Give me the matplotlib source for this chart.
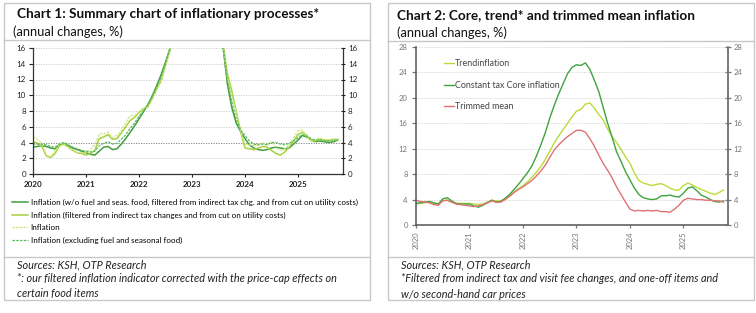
import matplotlib
matplotlib.use("Agg")
import matplotlib.pyplot as plt
from matplotlib.lines import Line2D
from matplotlib.patches import Rectangle
import numpy as np

plt.rcParams["font.family"] = ["Lato", "DejaVu Sans"]

W, H = 756, 313

# ---- data: monthly, Jan 2020 .. Oct 2025 ----
years = ["2020", "2021", "2022", "2023", "2024", "2025"]

# Chart 1
infl_core_filtered = [
    3.4, 3.5, 3.6, 3.5, 3.3, 3.2, 3.7, 3.9, 3.6, 3.3, 3.1, 2.9,
    2.7, 2.5, 2.4, 2.9, 3.4, 3.5, 3.1, 3.2, 3.8, 4.5, 5.3, 6.1,
    7.0, 7.9, 8.8, 9.9, 11.2, 12.6, 14.2, 15.9, 18.0, 20.0, 22.0, 24.0,
    25.5, 26.0, 26.0, 25.5, 24.0, 22.5, 20.0, 16.3, 11.5, 8.5, 6.5, 5.4,
    4.5, 3.7, 3.3, 3.1, 3.0, 3.1, 3.3, 3.4, 3.3, 3.2, 3.3, 3.8,
    4.3, 4.9, 4.7, 4.3, 4.1, 4.2, 4.1, 4.0, 4.1, 4.3]
infl_filtered = [
    4.1, 3.9, 3.5, 2.3, 2.1, 2.6, 3.6, 3.8, 3.4, 3.0, 2.7, 2.6,
    2.4, 2.6, 3.0, 4.5, 4.7, 5.0, 4.4, 4.5, 5.2, 6.0, 6.8, 7.2,
    7.8, 8.3, 8.6, 9.6, 10.8, 11.8, 13.8, 15.8, 19.5, 20.5, 22.0, 24.0,
    25.0, 25.0, 25.0, 24.0, 21.5, 20.0, 17.5, 16.6, 12.8, 10.6, 8.0, 5.4,
    3.3, 3.2, 3.1, 3.3, 3.5, 3.4, 3.0, 2.6, 2.4, 2.8, 3.4, 4.2,
    5.0, 5.3, 4.9, 4.2, 4.2, 4.4, 4.3, 4.3, 4.4, 4.4]
infl_headline = [
    4.7, 4.4, 3.9, 2.4, 2.2, 2.9, 3.8, 3.9, 3.4, 3.0, 2.7, 2.7,
    2.7, 3.1, 3.7, 5.1, 5.1, 5.3, 4.6, 4.9, 5.5, 6.5, 7.4, 7.4,
    7.9, 8.3, 8.5, 9.5, 10.7, 11.7, 13.7, 15.6, 20.1, 21.1, 22.5, 24.5,
    25.7, 25.4, 25.2, 24.0, 21.5, 20.1, 17.6, 16.4, 12.2, 9.9, 7.9, 5.5,
    3.8, 3.7, 3.6, 3.7, 4.0, 3.7, 4.1, 3.4, 3.0, 3.2, 3.7, 4.6,
    5.5, 5.6, 4.7, 4.2, 4.4, 4.6, 4.3, 4.3, 4.3, 4.3]
infl_ex_fuel_food = [
    3.8, 3.8, 3.8, 3.7, 3.5, 3.4, 3.8, 4.0, 3.7, 3.4, 3.2, 3.0,
    2.9, 2.8, 2.9, 3.6, 3.9, 4.1, 3.8, 3.9, 4.4, 5.0, 5.8, 6.5,
    7.3, 8.0, 8.7, 9.8, 11.0, 12.3, 14.0, 15.8, 18.5, 20.5, 22.0, 24.0,
    25.5, 25.5, 25.5, 25.0, 23.0, 21.5, 19.0, 16.5, 12.0, 9.2, 7.0, 5.6,
    4.9, 4.2, 3.8, 3.7, 3.8, 3.7, 4.0, 4.0, 3.8, 3.7, 3.9, 4.2,
    4.6, 5.0, 4.8, 4.5, 4.3, 4.3, 4.2, 4.2, 4.2, 4.3]

labels1 = [
    "Inflation (w/o fuel and seas. food, filtered from indirect tax chg. and from cut on utility costs)",
    "Inflation (filtered from indirect tax changes and from cut on utility costs)",
    "Inflation",
    "Inflation (excluding fuel and seasonal food)",
]

# Chart 2
trend = [
    3.3, 3.4, 3.5, 3.6, 3.4, 3.3, 3.8, 3.9, 3.6, 3.4, 3.4, 3.4,
    3.4, 3.3, 3.2, 3.3, 3.6, 3.9, 3.8, 3.8, 4.1, 4.6, 5.2, 5.7,
    6.2, 6.8, 7.5, 8.3, 9.2, 10.3, 11.6, 12.9, 14.0, 15.0, 16.0, 17.0,
    17.9, 18.2, 19.0, 19.2, 18.4, 17.4, 16.5, 15.1, 13.9, 13.0, 11.9, 10.7,
    9.7, 8.2, 7.0, 6.6, 6.4, 6.2, 6.4, 6.5, 6.2, 5.8, 5.5, 5.5,
    6.2, 6.6, 6.3, 5.9, 5.6, 5.3, 5.0, 4.8, 5.1, 5.5]
core_const_tax = [
    3.4, 3.5, 3.6, 3.7, 3.5, 3.3, 4.1, 4.3, 3.8, 3.4, 3.3, 3.3,
    3.3, 3.0, 2.8, 3.1, 3.5, 3.9, 3.6, 3.7, 4.2, 4.8, 5.6, 6.4,
    7.3, 8.2, 9.3, 10.8, 12.6, 14.5, 16.8, 18.8, 20.6, 22.2, 23.8, 24.8,
    25.2, 25.1, 25.5, 24.5, 22.8, 21.0, 18.5, 16.0, 13.8, 11.5, 10.0, 8.4,
    7.1, 5.8, 4.8, 4.3, 4.1, 4.0, 4.1, 4.6, 4.6, 4.7, 4.5, 4.4,
    5.0, 5.8, 6.0, 5.4, 4.7, 4.4, 4.0, 3.7, 3.6, 3.8]
trimmed_mean = [
    3.9, 3.7, 3.6, 3.5, 3.2, 3.1, 3.8, 3.9, 3.6, 3.3, 3.2, 3.1,
    3.0, 2.9, 3.0, 3.2, 3.5, 3.8, 3.6, 3.6, 4.0, 4.5, 5.1, 5.6,
    6.0, 6.5, 7.0, 7.7, 8.5, 9.4, 10.6, 11.8, 12.6, 13.3, 13.9, 14.4,
    14.9, 14.9, 14.6, 13.6, 12.4, 11.0, 9.7, 8.6, 7.4, 6.0, 4.8, 3.6,
    2.5, 2.2, 2.3, 2.2, 2.3, 2.2, 2.3, 2.1, 2.1, 2.0, 2.5, 3.1,
    3.9, 4.2, 4.1, 4.0, 4.0, 3.9, 3.9, 3.8, 3.8, 3.6]
labels2 = ["Trendinflation", "Constant tax Core inflation", "Trimmed mean"]

months = np.arange(len(infl_headline))
year_pos = np.arange(len(years)) * 12

DARK = "#3f9e3f"
LIME = "#a8d040"
LIGHT = "#cfe67c"
MID = "#5cb85c"
RED = "#e07272"
AXC = "#555555"


def fx(x):
    return x / W


def fy(y):
    return 1 - y / H


def box(x0, y0, x1, y1, seps):
    fig.add_artist(Rectangle((fx(x0), fy(y1)), fx(x1) - fx(x0), fy(y0) - fy(y1),
                             transform=fig.transFigure, fill=False,
                             edgecolor="#c8c8c8", linewidth=1.0))
    for s in seps:
        fig.add_artist(Line2D([fx(x0), fx(x1)], [fy(s), fy(s)],
                              transform=fig.transFigure, color="#c8c8c8", linewidth=1.0))


fig = plt.figure(figsize=(W / 100, H / 100), dpi=100)

# ---------------- Chart 1 ----------------
box(4, 3, 370, 300, [40, 257])
fig.text(fx(17), fy(14), "Chart 1: Summary chart of inflationary processes*",
         fontsize=9.8, fontweight="bold", va="center", color="#111111")
fig.text(fx(13), fy(32), "(annual changes, %)", fontsize=9.3, va="center", color="#111111")

ax1 = fig.add_axes([fx(33), fy(174), (343 - 33) / W, (174 - 48) / H])
ax1.plot(months, infl_core_filtered, color=DARK, lw=1.1, label=labels1[0])
ax1.plot(months, infl_filtered, color=LIME, lw=1.1, label=labels1[1])
ax1.plot(months, infl_headline, color=LIGHT, lw=0.9, ls=(0, (2, 1)), label=labels1[2])
ax1.plot(months, infl_ex_fuel_food, color=MID, lw=0.9, ls=(0, (2, 1)), label=labels1[3])
ax1.set_xlim(0, 70.2)
ax1.set_ylim(0, 16)
ax1.set_yticks(range(0, 17, 2))
ax1.set_xticks(year_pos)
ax1.set_xticklabels(years, fontsize=5.8, fontweight="bold", color="#222222")
for yv in range(2, 17, 2):
    ax1.axhline(yv, color="#777777" if yv == 4 else "#c8c8c8", lw=0.6, ls=(0, (1.5, 1.5)), zorder=0)
ax1.tick_params(axis="y", labelsize=5.8, colors="#222222", length=3, width=0.8, pad=2, direction="out")
ax1.tick_params(axis="x", length=2, width=0.8, pad=3, colors="#222222")
ax1.spines["top"].set_visible(False)
for s in ["left", "right", "bottom"]:
    ax1.spines[s].set_color("#333333")
    ax1.spines[s].set_linewidth(0.9)
ax1r = ax1.twinx()
ax1r.set_ylim(0, 16)
ax1r.set_yticks(range(0, 17, 2))
ax1r.tick_params(axis="y", labelsize=5.8, colors="#222222", length=3, width=0.8, pad=2, direction="inout")
for s in ax1r.spines.values():
    s.set_visible(False)

h1, l1 = ax1.get_legend_handles_labels()
fig.legend(h1, l1, loc="upper left", bbox_to_anchor=(fx(12), fy(199)), frameon=False,
           fontsize=5.8, handlelength=2.0, handletextpad=0.3, labelspacing=0.68,
           borderaxespad=0, borderpad=0)

src_kw = dict(fontsize=7.8, style="italic", va="center", color="#222222")
fig.text(fx(17), fy(265), "Sources: KSH, OTP Research", **src_kw)
fig.text(fx(17), fy(279), "*: our filtered inflation indicator corrected with the price-cap effects on", **src_kw)
fig.text(fx(17), fy(293), "certain food items", **src_kw)

# ---------------- Chart 2 ----------------
box(388, 3, 754, 300, [41, 257])
fig.text(fx(397), fy(15), "Chart 2: Core, trend* and trimmed mean inflation",
         fontsize=9.8, fontweight="bold", va="center", color="#111111")
fig.text(fx(397), fy(33), "(annual changes, %)", fontsize=9.3, va="center", color="#111111")

ax2 = fig.add_axes([fx(416), fy(225), (728 - 416) / W, (225 - 47) / H])
ax2.plot(months, trend, color="#b9dc3a", lw=1.0, label=labels2[0])
ax2.plot(months, core_const_tax, color="#3ea33e", lw=1.0, label=labels2[1])
ax2.plot(months, trimmed_mean, color=RED, lw=1.0, label=labels2[2])
ax2.set_xlim(0, 70)
ax2.set_ylim(0, 28)
ax2.set_yticks(range(0, 29, 4))
ax2.set_xticks(year_pos)
ax2.set_xticklabels(years, rotation=90, fontsize=5.5, color="#777777")
for yv in range(4, 29, 4):
    ax2.axhline(yv, color="#d0d0d0", lw=0.6, ls=(0, (1.5, 1.5)), zorder=0)
ax2.tick_params(axis="y", labelsize=5.5, colors="#777777", length=3, width=0.9, pad=3, direction="out")
ax2.tick_params(axis="x", length=2.5, width=0.9, pad=2, colors="#777777")
ax2.spines["top"].set_visible(False)
for s in ["left", "right", "bottom"]:
    ax2.spines[s].set_color(AXC)
    ax2.spines[s].set_linewidth(1.1)
ax2r = ax2.twinx()
ax2r.set_ylim(0, 28)
ax2r.set_yticks(range(0, 29, 4))
ax2r.tick_params(axis="y", labelsize=5.5, colors="#777777", length=4, width=0.9, pad=2, direction="inout")
for s in ax2r.spines.values():
    s.set_visible(False)
for t in ax1.get_xticklines() + ax2.get_xticklines():
    t.set_color("#333333")

ax2.legend(loc="upper left", bbox_to_anchor=((444 - 416) / (728 - 416), 1 - (59 - 47) / (225 - 47)),
           frameon=False, fontsize=6.4, handlelength=1.1, handletextpad=0.1, labelspacing=1.42,
           borderaxespad=0, borderpad=0, labelcolor="#444444")

fig.text(fx(401), fy(265), "Sources: KSH, OTP Research", **src_kw)
fig.text(fx(401), fy(279), "*Filtered from indirect tax and visit fee changes, and one-off items and", **src_kw)
fig.text(fx(401), fy(294), "w/o second-hand car prices", **src_kw)

fig.savefig("out.png", dpi=100)
